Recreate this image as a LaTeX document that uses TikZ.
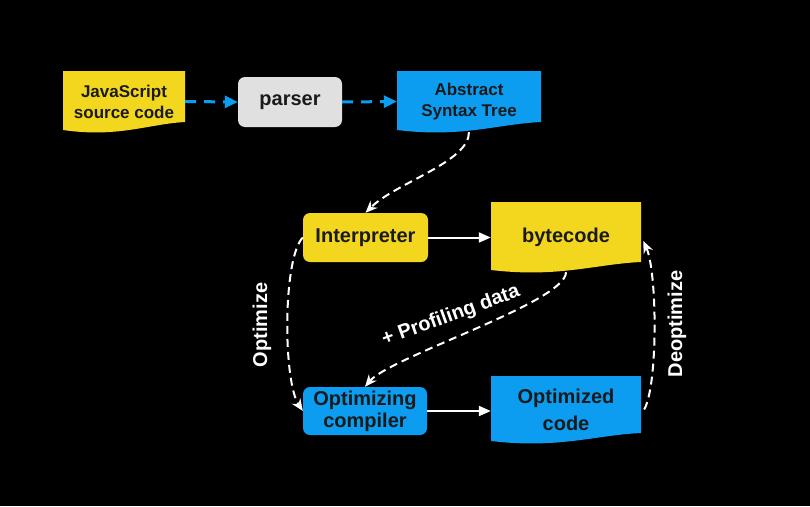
\documentclass[tikz,border=0pt]{standalone}
\usepackage{fontspec}
\setmainfont{Liberation Sans}
\usetikzlibrary{arrows.meta,calc}
\definecolor{jsyellow}{HTML}{F3D71E}
\definecolor{v8blue}{HTML}{0C9CF0}
\definecolor{pgray}{HTML}{E0E0E0}
\definecolor{ink}{HTML}{1A1A1A}
% name, colour, x1, y1, x2, y2 (bottom at right end), text style, text
\newcommand\docbox[8]{%
  \pgfmathsetmacro\dbw{#5-#3}%
  \pgfmathsetmacro\dbh{#6-#4+10}%
  \fill[#2] (#3,#4) -- (#5,#4) -- (#5,#6)
    .. controls ({#5-0.3*\dbw},{#6+2}) and ({#3+0.45*\dbw},{#6+16}) .. (#3,{#6+8}) -- cycle;
  \node[boxtext,#7,minimum width=\dbw pt,minimum height=\dbh pt] (#1) at ({(#3+#5)/2},{(#4+#6+10)/2}) {#8};
}
\begin{document}
\begin{tikzpicture}[x=1pt,y=-1pt,
  boxtext/.style={text=ink, align=center, inner sep=0pt, font=\bfseries\fontsize{20}{23}\selectfont},
  smalltext/.style={font=\bfseries\fontsize{17}{21}\selectfont},
  roundbox/.style={boxtext, rounded corners=7pt},
  bluedash/.style={draw=v8blue, line width=3pt, dash pattern=on 11pt off 8pt, -{Triangle[length=13pt,width=12pt]}},
  whitesolid/.style={draw=white, line width=2pt, -{Triangle[length=12pt,width=10pt]}},
  whitedash/.style={draw=white, line width=2pt, dash pattern=on 8pt off 5pt, -{Stealth[length=12pt,width=10pt]}},
  flowlabel/.style={text=white, inner sep=0pt, font=\bfseries\fontsize{20}{23}\selectfont}
]
\fill[black] (0,0) rectangle (810,506);
\useasboundingbox (0,0) rectangle (810,506);

\docbox{js}{jsyellow}{63}{71}{185}{122}{smalltext}{JavaScript\\source code}
\node[roundbox, fill=pgray, minimum width=104pt, minimum height=50pt] (parser) at (290,102) {parser};
\docbox{ast}{v8blue}{397}{71}{541}{122}{smalltext}{Abstract\\Syntax Tree}

\node[roundbox, fill=jsyellow, minimum width=125pt, minimum height=49pt] (int) at (365.5,237.5) {Interpreter};
\docbox{bc}{jsyellow}{491}{202}{641}{262}{}{bytecode}

\node[roundbox, fill=v8blue, minimum width=124pt, minimum height=48pt, font=\bfseries\fontsize{20}{22}\selectfont] (comp) at (365,411) {Optimizing\\compiler};
\docbox{opt}{v8blue}{491}{376}{641}{433}{font=\bfseries\fontsize{20}{27}\selectfont}{Optimized\\code}

\draw[bluedash] (js.east) -- (parser.west);
\draw[bluedash] (parser.east) -- (ast.west);

\draw[whitesolid] (int.east) -- (int.east -| bc.west);
\draw[whitesolid] (comp.east) -- (comp.east -| opt.west);

\draw[whitedash] (ast.south) .. controls +(0,30) and +(30,-30) .. (int.north);
\draw[whitedash] (bc.south) .. controls +(0,30) and +(25,-30) .. (comp.north);
\draw[whitedash] (int.west) .. controls +(-20,20) and +(-20,-30) .. (comp.west);
\draw[whitedash] ($(opt.east)+(3,0)$) .. controls +(14,-25) and +(14,30) .. ($(bc.east)+(2,4)$);

\node[flowlabel, rotate=90] (optl) at (262,325) {Optimize};
\node[flowlabel, rotate=90] (deoptl) at (677,324) {Deoptimize};
\node[flowlabel, rotate=20] (profl) at (451,316) {+ Profiling data};
\end{tikzpicture}
\end{document}
